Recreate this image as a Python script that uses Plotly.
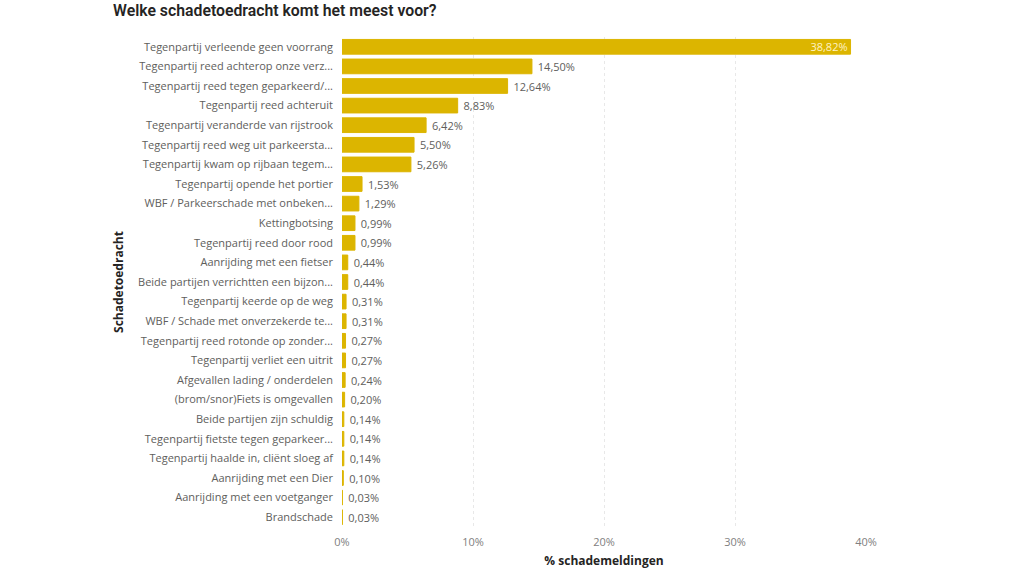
import plotly.graph_objects as go

# categories in display order (top to bottom)
categories = [
    "Tegenpartij verleende geen voorrang",
    "Tegenpartij reed achterop onze verz...",
    "Tegenpartij reed tegen geparkeerd/...",
    "Tegenpartij reed achteruit",
    "Tegenpartij veranderde van rijstrook",
    "Tegenpartij reed weg uit parkeersta...",
    "Tegenpartij kwam op rijbaan tegem...",
    "Tegenpartij opende het portier",
    "WBF / Parkeerschade met onbeken...",
    "Kettingbotsing",
    "Tegenpartij reed door rood",
    "Aanrijding met een fietser",
    "Beide partijen verrichtten een bijzon...",
    "Tegenpartij keerde op de weg",
    "WBF / Schade met onverzekerde te...",
    "Tegenpartij reed rotonde op zonder...",
    "Tegenpartij verliet een uitrit",
    "Afgevallen lading / onderdelen",
    "(brom/snor)Fiets is omgevallen",
    "Beide partijen zijn schuldig",
    "Tegenpartij fietste tegen geparkeer...",
    "Tegenpartij haalde in, cliënt sloeg af",
    "Aanrijding met een Dier",
    "Aanrijding met een voetganger",
    "Brandschade",
]
percentages = [38.82, 14.50, 12.64, 8.83, 6.42, 5.50, 5.26, 1.53, 1.29, 0.99,
               0.99, 0.44, 0.44, 0.31, 0.31, 0.27, 0.27, 0.24, 0.20, 0.14,
               0.14, 0.14, 0.10, 0.03, 0.03]
tick_vals = [0, 10, 20, 30, 40]
tick_text = ["0%", "10%", "20%", "30%", "40%"]

bar_color = "#DCB500"
label_pos = ["inside" if p > 30 else "outside" for p in percentages]
label_col = ["#FFF3C4" if p > 30 else "#605E5C" for p in percentages]

fig = go.Figure()
fig.add_trace(go.Bar(
    x=percentages, y=categories, orientation="h",
    marker=dict(color=bar_color, line=dict(color=bar_color, width=1)),
    texttemplate="\u00a0%{x:.2f}%", textposition=label_pos,
    insidetextanchor="end",
    textfont=dict(family="Open Sans", size=11, color=label_col),
    cliponaxis=False,
    hoverinfo="skip",
))

fig.update_layout(
    width=1024, height=573,
    paper_bgcolor="white", plot_bgcolor="white",
    separators=",.",
    margin=dict(l=342, r=158, t=37, b=46),
    bargap=0.25,
    showlegend=False,
    uniformtext=dict(minsize=11, mode="show"),
    title=dict(text="Welke schadetoedracht komt het meest voor?",
               x=113 / 1024, xanchor="left", xref="container",
               y=1 - 10 / 573, yanchor="middle", yref="container",
               font=dict(family="Roboto", size=15.8, weight=600, color="#252423")),
    font=dict(family="Open Sans", color="#605E5C"),
)

fig.update_xaxes(
    range=[0, 40], tickmode="array", tickvals=tick_vals, ticktext=tick_text,
    tickfont=dict(size=11, color="#808080"),
    ticklabelstandoff=7, automargin=False,
    showgrid=True, gridcolor="#E8E8E8", griddash="dot", gridwidth=1,
    zeroline=False, showline=False, ticks="",
    title=dict(text="% schademeldingen", standoff=8,
               font=dict(family="Open Sans", size=12, weight="bold", color="#252423")),
)
fig.update_yaxes(
    autorange="reversed", ticks="", showline=False, showgrid=False,
    ticklabelstandoff=8, automargin=False,
    tickfont=dict(size=11, color="#605E5C"),
    title=dict(text="Schadetoedracht", standoff=11,
               font=dict(family="Open Sans", size=12, weight="bold", color="#252423")),
)

# the page body has a default 8px margin; remove it so the figure sits at 0,0
fig.write_html("out.html", config={"displayModeBar": False},
               post_script="document.body.style.margin = '0';")
